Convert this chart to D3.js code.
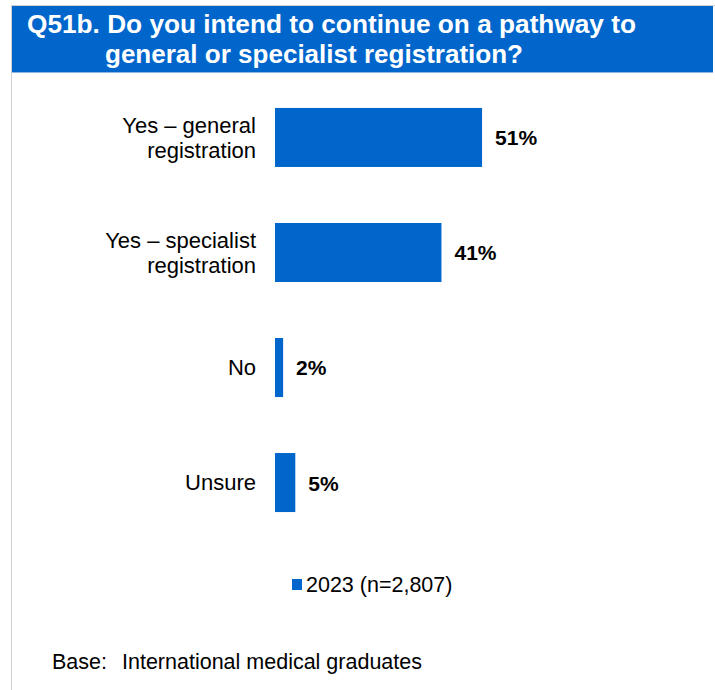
<!DOCTYPE html>
<html><head><meta charset="utf-8">
<script src="https://cdn.jsdelivr.net/npm/d3@7"></script>
<style>body{margin:0;background:#fff}svg{display:block}text{font-family:"Liberation Sans",Arial,sans-serif}</style>
</head><body>
<svg id="c" width="715" height="690"></svg>
<script>
const categories = [["Yes – general","registration"],["Yes – specialist","registration"],["No"],["Unsure"]];
const values = [51, 41, 2, 5];
const valueLabels = ["51%","41%","2%","5%"];
const seriesName = "2023 (n=2,807)";
const titleLines = ["Q51b. Do you intend to continue on a pathway to","general or specialist registration?"];
const baseLabel = "Base:";
const baseNote = "International medical graduates";

const svg = d3.select("#c");
const blue = "#0066CC";

// frame
svg.append("line").attr("x1",11.5).attr("x2",11.5).attr("y1",5).attr("y2",690).attr("stroke","#d0d0d0");
svg.append("line").attr("x1",11).attr("x2",715).attr("y1",5.5).attr("y2",5.5).attr("stroke","#d0d0d0");
svg.append("rect").attr("x",12).attr("y",6).attr("width",701).attr("height",66).attr("fill",blue);
svg.append("line").attr("x1",12).attr("x2",713).attr("y1",72.5).attr("y2",72.5).attr("stroke","#8fb8e6");

const t = svg.append("text").attr("fill","#fff").attr("font-weight","bold").attr("font-size",25);
t.append("tspan").attr("x",27).attr("y",33).attr("textLength",609).attr("lengthAdjust","spacingAndGlyphs").text(titleLines[0]);
t.append("tspan").attr("x",105).attr("y",63).attr("textLength",418).attr("lengthAdjust","spacingAndGlyphs").text(titleLines[1]);

const x = d3.scaleLinear().domain([0,100]).range([275,275+406]);
const y = d3.scaleBand().domain(d3.range(values.length)).range([80,540]).paddingInner(0.487).paddingOuter(0.243);

svg.selectAll("rect.bar").data(values).join("rect").attr("class","bar")
  .attr("x",x(0)).attr("y",(d,i)=>y(i)).attr("width",d=>x(d)-x(0)).attr("height",y.bandwidth()).attr("fill",blue);

svg.selectAll("text.val").data(values).join("text").attr("class","val")
  .attr("x",d=>x(d)+13).attr("y",(d,i)=>y(i)+y.bandwidth()/2).attr("dy","0.38em")
  .attr("font-size",21).attr("font-weight","bold").attr("fill","#000").text((d,i)=>valueLabels[i]);

svg.selectAll("text.cat").data(categories).join("text").attr("class","cat")
  .attr("text-anchor","end").attr("font-size",22).attr("fill","#000")
  .each(function(d,i){
    const el = d3.select(this);
    const cy = y(i)+y.bandwidth()/2;
    const lh = 25;
    d.forEach((line,k)=>{
      el.append("tspan").attr("x",256).attr("y",cy+(k-(d.length-1)/2)*lh).attr("dy","0.35em").text(line);
    });
  });

// legend
svg.append("rect").attr("x",292).attr("y",579).attr("width",10).attr("height",11).attr("fill",blue);
svg.append("text").attr("x",306).attr("y",592).attr("font-size",21.5).attr("fill","#000").text(seriesName);

svg.append("text").attr("x",52).attr("y",669).attr("font-size",21.5).attr("fill","#000").text(baseLabel);
svg.append("text").attr("x",122).attr("y",669).attr("font-size",21.5).attr("fill","#000").text(baseNote);
</script>
</body></html>
